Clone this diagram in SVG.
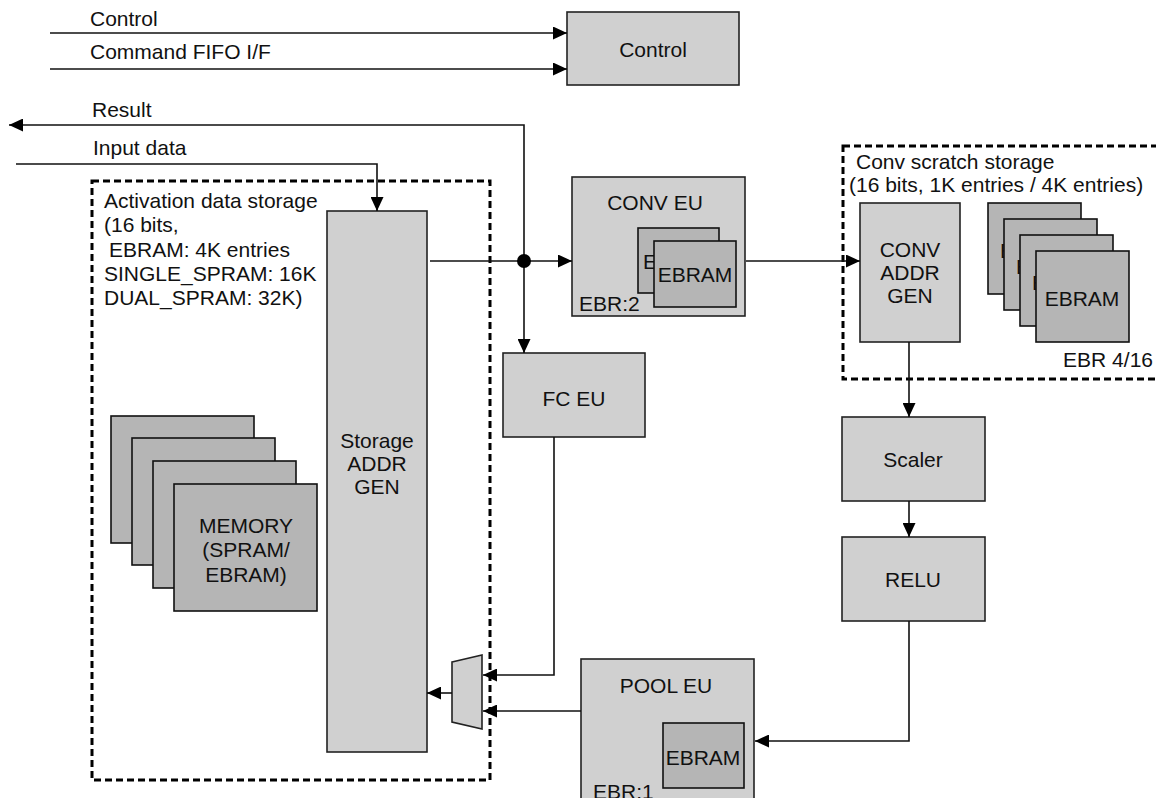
<svg xmlns="http://www.w3.org/2000/svg" width="1156" height="798" viewBox="0 0 1156 798">
<defs>
<style>
text{font-family:"Liberation Sans",Arial,sans-serif;font-size:21px;fill:#111}
.c{text-anchor:middle}
.box{fill:#d0d0d0;stroke:#222;stroke-width:1.6}
.mem{fill:#b5b5b5;stroke:#111;stroke-width:1.6}
.dash{fill:none;stroke:#000;stroke-width:3;stroke-dasharray:7,4}
.ln{fill:none;stroke:#111;stroke-width:1.6}
</style>
<marker id="ah" viewBox="0 0 14 13" markerWidth="14" markerHeight="13" refX="14" refY="6.5" orient="auto" markerUnits="userSpaceOnUse">
<path d="M0,0 L14,6.5 L0,13 z" fill="#000"/>
</marker>
</defs>
<rect width="1156" height="798" fill="#fff"/>

<g id="activation-storage">
<rect class="dash" x="92" y="181" width="398" height="599"/>
<text x="104" y="208">Activation data storage</text>
<text x="104" y="232">(16 bits,</text>
<text x="109" y="257">EBRAM: 4K entries</text>
<text x="104" y="281">SINGLE_SPRAM: 16K</text>
<text x="104" y="305">DUAL_SPRAM: 32K)</text>
</g>

<g id="conv-scratch">
<rect class="dash" x="843" y="146" width="320" height="233"/>
<text x="856" y="169">Conv scratch storage</text>
<text x="849" y="192">(16 bits, 1K entries / 4K entries)</text>
<text x="1153" y="367" text-anchor="end">EBR 4/16</text>
</g>

<g id="control">
<rect class="box" x="567" y="12" width="172" height="73"/>
<text class="c" x="653" y="57">Control</text>
</g>

<g id="storage-addr-gen">
<rect class="box" x="327" y="211" width="100" height="541"/>
<text class="c" x="377" y="448">Storage</text>
<text class="c" x="377" y="471">ADDR</text>
<text class="c" x="377" y="494">GEN</text>
</g>

<g id="memory">
<rect class="mem" x="111" y="416" width="143" height="127"/>
<rect class="mem" x="132" y="438" width="143" height="127"/>
<rect class="mem" x="153" y="461" width="143" height="127"/>
<rect class="mem" x="174" y="484" width="143" height="127"/>
<text class="c" x="246" y="533">MEMORY</text>
<text class="c" x="246" y="557">(SPRAM/</text>
<text class="c" x="246" y="582">EBRAM)</text>
</g>

<g id="conv-eu">
<rect class="box" x="572" y="177" width="173" height="139"/>
<text class="c" x="655" y="210">CONV EU</text>
<rect class="mem" x="638" y="228" width="81" height="65"/>
<text x="643" y="269">E</text>
<rect class="mem" x="654" y="241" width="82" height="66"/>
<text class="c" x="695" y="282">EBRAM</text>
<text x="579" y="311">EBR:2</text>
</g>

<g id="fc-eu">
<rect class="box" x="503" y="353" width="142" height="84"/>
<text class="c" x="574" y="406">FC EU</text>
</g>

<g id="conv-addr-gen">
<rect class="box" x="860" y="203" width="100" height="139"/>
<text class="c" x="910" y="257">CONV</text>
<text class="c" x="910" y="280">ADDR</text>
<text class="c" x="910" y="303">GEN</text>
</g>

<g id="ebram-stack">
<rect class="mem" x="988" y="203" width="93" height="91"/>
<text x="1000" y="258">E</text>
<rect class="mem" x="1004" y="219" width="93" height="91"/>
<text x="1016" y="274">E</text>
<rect class="mem" x="1020" y="235" width="93" height="91"/>
<text x="1032" y="290">E</text>
<rect class="mem" x="1036" y="251" width="93" height="91"/>
<text class="c" x="1082" y="306">EBRAM</text>
</g>

<g id="scaler">
<rect class="box" x="842" y="417" width="143" height="84"/>
<text class="c" x="913" y="467">Scaler</text>
</g>

<g id="relu">
<rect class="box" x="842" y="537" width="143" height="84"/>
<text class="c" x="913" y="587">RELU</text>
</g>

<g id="pool-eu">
<rect class="box" x="581" y="659" width="173" height="145"/>
<text class="c" x="666" y="693">POOL EU</text>
<rect class="mem" x="663" y="723" width="81" height="65"/>
<text class="c" x="703" y="765">EBRAM</text>
<text x="593" y="799">EBR:1</text>
</g>

<g id="mux">
<path class="box" d="M452,662 L482,655 L482,729 L452,722 Z"/>
</g>

<g id="labels">
<text x="90" y="26">Control</text>
<text x="90" y="59">Command FIFO I/F</text>
<text x="92" y="117">Result</text>
<text x="93" y="155">Input data</text>
</g>

<g id="connectors">
<path class="ln" d="M50,33 H567" marker-end="url(#ah)"/>
<path class="ln" d="M50,69 H567" marker-end="url(#ah)"/>
<path class="ln" d="M524,261 V125 H9" marker-end="url(#ah)"/>
<path class="ln" d="M16,164 H377 V211" marker-end="url(#ah)"/>
<path class="ln" d="M430,261 H572" marker-end="url(#ah)"/>
<path class="ln" d="M524,261 V353" marker-end="url(#ah)"/>
<circle cx="524" cy="261" r="7" fill="#000"/>
<path class="ln" d="M746,261 H860" marker-end="url(#ah)"/>
<path class="ln" d="M909,342 V417" marker-end="url(#ah)"/>
<path class="ln" d="M909,501 V537" marker-end="url(#ah)"/>
<path class="ln" d="M909,621 V741 H755" marker-end="url(#ah)"/>
<path class="ln" d="M554,437 V675 H483" marker-end="url(#ah)"/>
<path class="ln" d="M581,711 H483" marker-end="url(#ah)"/>
<path class="ln" d="M452,693 H427" marker-end="url(#ah)"/>
</g>
</svg>
